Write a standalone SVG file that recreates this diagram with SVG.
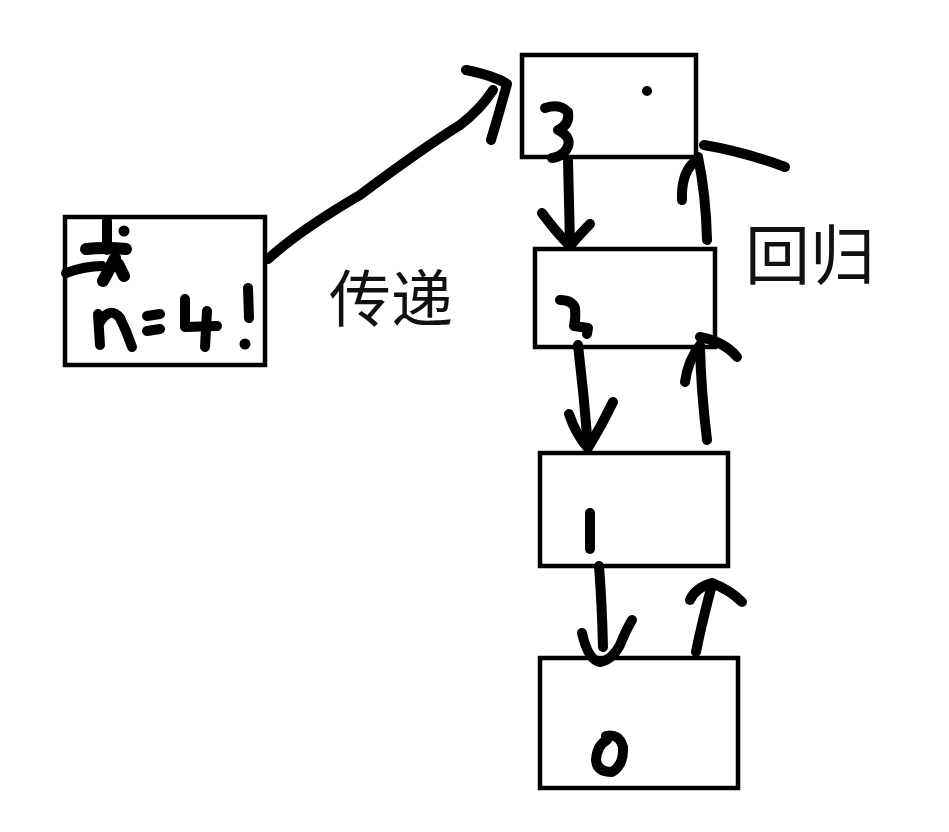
<svg xmlns="http://www.w3.org/2000/svg" width="949" height="832" viewBox="0 0 949 832">
<style>
.box{fill:none;stroke:#000;stroke-width:4.5}
.ink{fill:none;stroke:#000;stroke-width:10;stroke-linecap:round;stroke-linejoin:round}
.bold{stroke-width:12}
.lbl{font-family:"Noto Sans CJK SC","Noto Sans",sans-serif;fill:#111}
</style>
<rect width="949" height="832" fill="#fff"/>
<g id="node-n4">
<rect class="box" x="65" y="217" width="200" height="148"/>
<path class="ink" d="M107,221 L107,250"/>
<path class="ink bold" d="M86,249 Q105,247 126,249"/>
<circle cx="124" cy="231" r="5.5"/>
<path class="ink" d="M66,273 Q85,266 102,266"/>
<path class="ink bold" d="M115,258 Q108,272 103,281"/>
<path class="ink bold" d="M118,264 L124,276"/>
<path class="ink" d="M98,314 L100,345"/>
<path class="ink" d="M100,322 Q110,306 120,318 Q127,332 132,347"/>
<path class="ink" d="M147,316 L160,314"/>
<path class="ink" d="M147,331 L160,329"/>
<path class="ink" d="M185,299 L185,327 L217,326"/>
<path class="ink" d="M207,311 L205,347"/>
<path class="ink" d="M248,288 L249,318"/>
<circle cx="245" cy="344" r="5.5"/>
</g>
<g id="node-3">
<rect class="box" x="522" y="55" width="174" height="102"/>
<path class="ink" d="M545,108 Q560,103 568,112 Q570,125 558,130 Q574,138 566,150 Q561,157 552,158"/>
<circle cx="647" cy="91" r="5"/>
</g>
<g id="node-2">
<rect class="box" x="535" y="249" width="180" height="98"/>
<path class="ink" d="M560,300 Q572,300 575,308 Q576,318 574,326 L588,328 L587,334"/>
</g>
<g id="node-1">
<rect class="box" x="540" y="453" width="188" height="113"/>
<path class="ink" d="M590,513 L590,549"/>
</g>
<g id="node-0">
<rect class="box" x="540" y="658" width="198" height="130"/>
<path class="ink" d="M606,736 Q619,733 623,747 Q624,765 612,772 Q597,772 596,760 Q597,745 607,740"/>
</g>
<g id="labels">
<text class="lbl" x="329" y="322" font-size="62">传递</text>
<text class="lbl" x="745" y="279" font-size="65">回归</text>
</g>
<g id="connectors">
<path class="ink" d="M268,259 Q300,230 360,195 Q420,150 460,125 Q480,110 493,90"/>
<path class="ink" d="M466,70 Q495,76 507,84 Q500,110 491,140"/>
<path class="ink" d="M568,160 L570,244"/>
<path class="ink" d="M542,213 Q556,232 570,246 Q582,232 590,224"/>
<path class="ink" d="M707,240 Q706,195 698,157"/>
<path class="ink" d="M682,200 Q681,175 693,163"/>
<path class="ink" d="M704,145 Q745,152 785,167"/>
<path class="ink" d="M578,345 Q584,395 588,447"/>
<path class="ink" d="M569,414 Q576,435 588,448 Q602,425 613,402"/>
<path class="ink" d="M707,440 Q701,390 700,347"/>
<path class="ink" d="M685,382 Q688,360 700,345"/>
<path class="ink" d="M700,337 Q725,342 737,357"/>
<path class="ink" d="M599,566 Q602,605 603,647"/>
<path class="ink" d="M582,633 Q588,660 600,662 Q612,660 620,645 Q626,630 632,620"/>
<path class="ink" d="M696,652 Q702,622 712,585"/>
<path class="ink" d="M690,600 Q695,588 712,583 Q730,590 742,602"/>
</g>
</svg>
